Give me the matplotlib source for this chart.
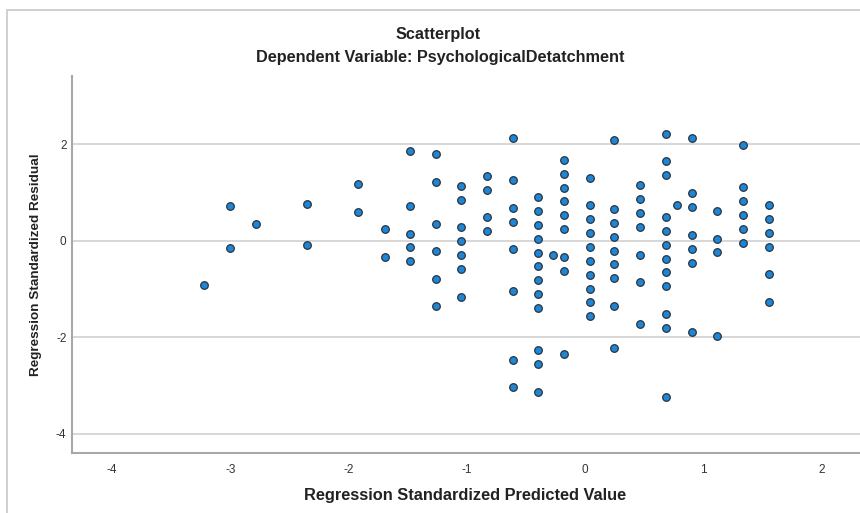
import matplotlib.pyplot as plt
from matplotlib.patches import Rectangle

plt.rcParams['font.family'] = ['Liberation Sans', 'DejaVu Sans']
plt.rcParams['axes.unicode_minus'] = False

# Regression standardized predicted value (x) vs standardized residual (y)
pred = [
    -3.22, -3.0, -3.0, -2.78, -2.35, -2.35,
    -1.92, -1.92, -1.69, -1.69,
    -1.48, -1.48, -1.48, -1.48, -1.48,
    -1.26, -1.26, -1.26, -1.26, -1.26, -1.26,
    -1.045, -1.045, -1.045, -1.045, -1.045, -1.045, -1.045,
    -0.83, -0.83, -0.83, -0.83,
    -0.61, -0.61, -0.61, -0.61, -0.61, -0.61, -0.61, -0.61,
    -0.40, -0.40, -0.40, -0.40, -0.40, -0.40, -0.40, -0.40, -0.40, -0.40, -0.40, -0.40,
    -0.27,
    -0.18, -0.18, -0.18, -0.18, -0.18, -0.18, -0.18, -0.18, -0.18,
    0.04, 0.04, 0.04, 0.04, 0.04, 0.04, 0.04, 0.04, 0.04, 0.04,
    0.25, 0.25, 0.25, 0.25, 0.25, 0.25, 0.25, 0.25, 0.25,
    0.47, 0.47, 0.47, 0.47, 0.47, 0.47, 0.47,
    0.69, 0.69, 0.69, 0.69, 0.69, 0.69, 0.69, 0.69, 0.69, 0.69, 0.69, 0.69,
    0.78,
    0.91, 0.91, 0.91, 0.91, 0.91, 0.91, 0.91,
    1.12, 1.12, 1.12, 1.12,
    1.34, 1.34, 1.34, 1.34, 1.34, 1.34,
    1.56, 1.56, 1.56, 1.56, 1.56, 1.56,
]
resid = [
    -0.92, 0.72, -0.14, 0.35, 0.76, -0.09,
    1.18, 0.60, 0.24, -0.34,
    1.87, 0.72, 0.15, -0.13, -0.42,
    1.80, 1.22, 0.36, -0.22, -0.79, -1.36,
    1.13, 0.85, 0.28, -0.01, -0.30, -0.58, -1.16,
    1.35, 1.06, 0.49, 0.20,
    2.14, 1.27, 0.69, 0.40, -0.17, -1.03, -2.47, -3.04,
    0.90, 0.61, 0.32, 0.04, -0.25, -0.53, -0.82, -1.11, -1.40, -2.26, -2.55, -3.13,
    -0.30,
    1.68, 1.39, 1.10, 0.82, 0.53, 0.24, -0.34, -0.62, -2.34,
    1.31, 0.74, 0.45, 0.16, -0.13, -0.42, -0.70, -0.99, -1.27, -1.56,
    2.10, 0.66, 0.37, 0.09, -0.20, -0.49, -0.78, -1.36, -2.22,
    1.15, 0.86, 0.58, 0.29, -0.29, -0.86, -1.72,
    2.22, 1.65, 1.36, 0.49, 0.21, -0.08, -0.37, -0.65, -0.94, -1.52, -1.81, -3.24,
    0.75,
    2.14, 0.99, 0.70, 0.13, -0.16, -0.45, -1.88,
    0.62, 0.04, -0.24, -1.97,
    1.98, 1.11, 0.82, 0.53, 0.25, -0.04,
    0.74, 0.45, 0.17, -0.12, -0.69, -1.27,
]
x_ticks = [-4, -3, -2, -1, 0, 1, 2]
y_ticks = [-4, -2, 0, 2]

W, H = 860, 513
fig = plt.figure(figsize=(8.6, 5.13), dpi=100)
fig.patches.append(Rectangle((7 / W, -0.1), 1.2, 1 - 9.5 / H + 0.1,
                             transform=fig.transFigure, fill=False,
                             edgecolor='#c8c8c8', linewidth=1.2))

ax = fig.add_axes([72 / W, 1 - 453 / H, 1 - 72 / W + 0.01, (453 - 76) / H])
ax.set_xlim(-4.34, 2.4)
ax.set_ylim(-4.40, 3.42)

for yv in y_ticks:
    ax.axhline(yv, color='#d4d4d4', linewidth=1.3, zorder=1)

ax.scatter(pred, resid, s=30, c='#1f86d6', edgecolors='#2a3440',
           linewidths=0.9, zorder=3)

ax.set_xticks(x_ticks)
ax.set_yticks(y_ticks)
ax.tick_params(length=0, labelsize=8.5, colors='#333333')
ax.tick_params(axis='x', pad=8)
ax.tick_params(axis='y', pad=4)
for s in ['top', 'right']:
    ax.spines[s].set_visible(False)
for s in ['left', 'bottom']:
    ax.spines[s].set_color('#a8a8a8')
    ax.spines[s].set_linewidth(1.5)

txt = dict(fontweight='bold', color='#222222')
fig.text(465 / W, 1 - 500 / H, 'Regression Standardized Predicted Value',
         ha='center', va='baseline', fontsize=11.8, **txt)
fig.text(36.5 / W, 1 - 265 / H, 'Regression Standardized Residual',
         ha='center', va='center', rotation=90, fontsize=9.7, **txt)
fig.text(438 / W, 1 - 38.5 / H, 'Scatterplot', ha='center', va='baseline',
         fontsize=11.7, **txt)
fig.text(440 / W, 1 - 62 / H, 'Dependent Variable: PsychologicalDetatchment',
         ha='center', va='baseline', fontsize=11.7, **txt)

fig.savefig('out.png', dpi=100)
